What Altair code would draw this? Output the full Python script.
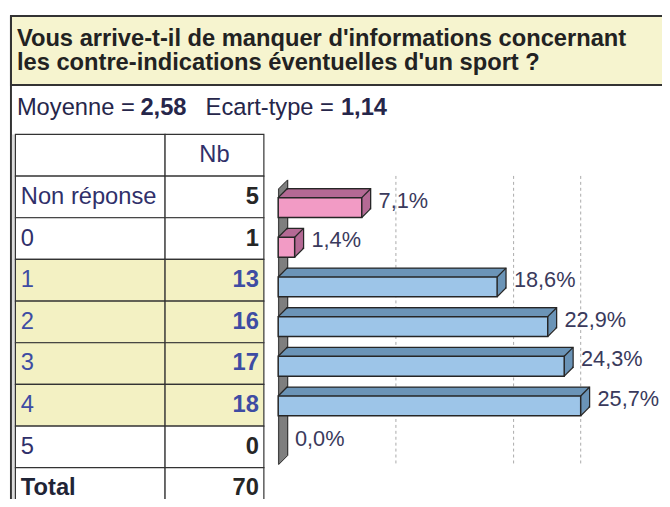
import altair as alt
import pandas as pd

# ---------------- data ----------------
title_lines = ["Vous arrive-t-il de manquer d'informations concernant",
               "les contre-indications éventuelles d'un sport ?"]
stat_parts = ["Moyenne =", "2,58", "Ecart-type =", "1,14"]
row_labels = ["Non réponse", "0", "1", "2", "3", "4", "5"]
counts = [5, 1, 13, 16, 17, 18, 0]
total_label = "Total"
total_count = 70
percents = [7.1, 1.4, 18.6, 22.9, 24.3, 25.7, 0.0]
highlight_rows = ["1", "2", "3", "4"]
pink_rows = ["Non réponse", "0"]
grid_values = [10, 20, 25.7]
header_nb = "Nb"

FONT = "Liberation Sans"
D = 9  # 3D depth in px

bar_df = pd.DataFrame({"cat": row_labels, "idx": list(range(len(row_labels))), "pct": percents})
table_df = pd.DataFrame({
    "key": ["hdr"] + row_labels + [total_label],
    "label": [""] + row_labels + [total_label],
    "nb": [header_nb] + [str(c) for c in counts] + [str(total_count)],
})
grid_df = pd.DataFrame({"g": grid_values})
one = pd.DataFrame({"a": [0]})

XB = alt.Scale(domain=[0, 25.7], range=[273.5, 579.7])
YB = alt.Scale(domain=[0, 6], range=[199.0, 439.9])
YT = alt.Scale(domain=list(table_df["key"]), range=[125, 504.5], paddingInner=0, paddingOuter=0)

hl_test = "indexof(" + str(highlight_rows) + ", datum.key) >= 0"
pink_test = "indexof(" + str(pink_rows) + ", datum.cat) >= 0"

layers = []

# title box and frame
layers.append(alt.Chart(one).mark_rect(fill="#F6F4CF", stroke="#333333", strokeWidth=2).encode(
    x=alt.value(3), x2=alt.value(720), y=alt.value(5), y2=alt.value(75)))
layers.append(alt.Chart(one).mark_rule(color="#333333", strokeWidth=2).encode(
    x=alt.value(3), y=alt.value(5), y2=alt.value(560)))
layers.append(alt.Chart(one).mark_rect(fill="#DCDCDC").encode(
    x=alt.value(4), x2=alt.value(7.5), y=alt.value(125), y2=alt.value(560)))

title_y = [28, 53]
for i, t in enumerate(title_lines):
    layers.append(alt.Chart(pd.DataFrame({"t": [t]})).mark_text(
        font=FONT, fontSize=24, fontWeight="bold", align="left",
        baseline="middle", color="#222222").encode(
        text="t:N", x=alt.value(9), y=alt.value(title_y[i])))

stat_x = [9, 134, 200, 337]
for i, s in enumerate(stat_parts):
    layers.append(alt.Chart(pd.DataFrame({"t": [s]})).mark_text(
        font=FONT, fontSize=24, fontWeight="bold" if i % 2 == 1 else "normal",
        align="left", baseline="middle", color="#26264A").encode(
        text="t:N", x=alt.value(stat_x[i]), y=alt.value(98)))

# table cells
fill_cond = alt.condition(hl_test, alt.value("#F3F1C3"), alt.value("#FFFFFF"))
for x0, x1 in [(7.5, 159), (159, 259)]:
    layers.append(alt.Chart(table_df).mark_rect(stroke="#333333", strokeWidth=1.2).encode(
        y=alt.Y("key:N", scale=YT, axis=None), x=alt.value(x0), x2=alt.value(x1), fill=fill_cond))

txt_color = alt.condition(hl_test, alt.value("#3E4CA3"), alt.value("#30306A"))
num_color = alt.condition(hl_test, alt.value("#3E4CA3"), alt.value("#262626"))
ybt = alt.Y("key:N", scale=YT, axis=None)
layers.append(alt.Chart(table_df).transform_filter(
    "datum.key != 'hdr' && datum.key != 'Total'").mark_text(
    font=FONT, fontSize=24, align="left", baseline="middle").encode(
    text="label:N", y=ybt, x=alt.value(13), color=txt_color))
layers.append(alt.Chart(table_df).transform_filter("datum.key == 'Total'").mark_text(
    font=FONT, fontSize=24, fontWeight="bold", align="left", baseline="middle", color="#1F2436").encode(
    text="label:N", y=ybt, x=alt.value(13)))
layers.append(alt.Chart(table_df).transform_filter("datum.key != 'hdr'").mark_text(
    font=FONT, fontSize=24, fontWeight="bold", align="right", baseline="middle").encode(
    text="nb:N", y=ybt, x=alt.value(254), color=num_color))
layers.append(alt.Chart(table_df).transform_filter("datum.key == 'hdr'").mark_text(
    font=FONT, fontSize=24, align="center", baseline="middle", color="#30306A").encode(
    text="nb:N", y=ybt, x=alt.value(209)))

# gridlines
layers.append(alt.Chart(grid_df).mark_rule(color="#AAAAAA", strokeDash=[3, 3], strokeWidth=1).encode(
    x=alt.X("g:Q", scale=XB, axis=None), y=alt.value(167), y2=alt.value(460)))

# wall (3D axis)
for k in range(D + 1):
    layers.append(alt.Chart(one).mark_rule(color="#7F7F7F", strokeWidth=1.5,
                                           xOffset=k, yOffset=-k, y2Offset=-k).encode(
        x=alt.value(274), y=alt.value(180), y2=alt.value(459)))
for k in [0, D]:
    layers.append(alt.Chart(one).mark_rule(color="#333333", strokeWidth=1,
                                           xOffset=k, yOffset=-k, y2Offset=-k).encode(
        x=alt.value(274), y=alt.value(180), y2=alt.value(459)))
for yy in [180, 459]:
    layers.append(alt.Chart(one).mark_rule(color="#333333", strokeWidth=1).encode(
        x=alt.value(274), x2=alt.value(274 + D), y=alt.value(yy), y2=alt.value(yy - D)))

# bars
bars = alt.Chart(bar_df).transform_filter("datum.pct > 0").transform_calculate(
    y0="datum.idx - 0.25", y1="datum.idx + 0.25", z="0")
PINK_F, PINK_D = "#F29BC5", "#B56A95"
BLUE_F, BLUE_D = "#9DC5E8", "#6B94B7"
EDGE = "#262626"


def enc(front):
    return dict(
        x=alt.X("z:Q", scale=XB, axis=None), x2="pct:Q",
        y=alt.Y("y0:Q", scale=YB, axis=None), y2="y1:Q",
        fill=alt.condition(pink_test, alt.value(PINK_F if front else PINK_D),
                           alt.value(BLUE_F if front else BLUE_D)))


for k in range(D, 0, -1):
    kw = dict(xOffset=k, x2Offset=k, yOffset=-k, y2Offset=-k)
    if k == D:
        kw.update(stroke=EDGE, strokeWidth=1.3)
    layers.append(bars.mark_rect(**kw).encode(**enc(False)))
layers.append(bars.mark_rect(stroke=EDGE, strokeWidth=1.5).encode(**enc(True)))

# diagonal edges
for xf, yf in [("pct", "y0"), ("pct", "y1"), ("z", "y0")]:
    layers.append(bars.mark_rule(color=EDGE, strokeWidth=1.3, x2Offset=D, y2Offset=-D).encode(
        x=alt.X(xf + ":Q", scale=XB, axis=None), x2=xf + ":Q",
        y=alt.Y(yf + ":Q", scale=YB, axis=None), y2=yf + ":Q"))

# labels
layers.append(alt.Chart(bar_df).transform_calculate(
    lab="replace(format(datum.pct, '.1f'), '.', ',') + '%'").mark_text(
    font=FONT, fontSize=22, align="left", baseline="middle", dx=17, dy=-7, color="#3A3A5C").encode(
    x=alt.X("pct:Q", scale=XB, axis=None), y=alt.Y("idx:Q", scale=YB, axis=None), text="lab:N"))

chart = alt.layer(*layers).resolve_scale(x="independent", y="independent").properties(
    width=662, height=491, padding=0,
    autosize=alt.AutoSizeParams(type="fit", contains="padding"),
).configure_view(stroke=None)

chart.save("out.html", embed_options={"renderer": "svg", "actions": False})
